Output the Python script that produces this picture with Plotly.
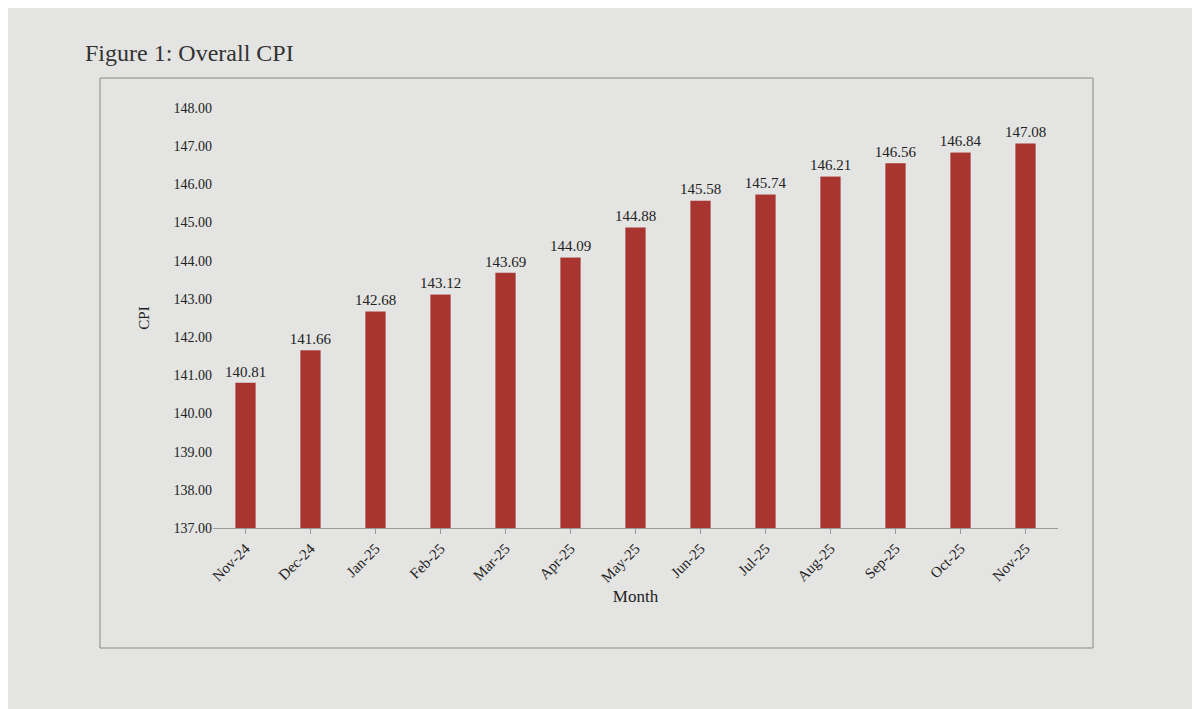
import plotly.graph_objects as go

months = ["Nov-24","Dec-24","Jan-25","Feb-25","Mar-25","Apr-25","May-25","Jun-25","Jul-25","Aug-25","Sep-25","Oct-25","Nov-25"]
cpi = [140.81,141.66,142.68,143.12,143.69,144.09,144.88,145.58,145.74,146.21,146.56,146.84,147.08]
yticks = [137 + i for i in range(12)]

F = "Liberation Serif"
fig = go.Figure(go.Bar(
    x=months, y=cpi, marker_color="#a8352f", width=0.32,
    text=[f"{v:.2f}" for v in cpi], textposition="outside", textangle=0,
    constraintext="none",
    textfont=dict(family=F, size=15, color="#222"), cliponaxis=False,
))
W, H = 1200, 709
l, r, t, b = 205, 150, 100, 189
pw, ph = W - l - r, H - t - b
px = lambda x: (x - l) / pw
py = lambda y: (H - b - y) / ph
fig.update_layout(
    width=W, height=H, margin=dict(l=l, r=r, t=t, b=b),
    paper_bgcolor="#e4e4e2", plot_bgcolor="#e4e4e2",
    font=dict(family=F, size=15, color="#222"), showlegend=False,
    xaxis=dict(tickangle=-45, showline=True, linecolor="#999", ticks="outside",
               tickcolor="#999", title=dict(text="Month", font=dict(size=17), standoff=5)),
    yaxis=dict(range=[137, 148], tickvals=yticks, tickformat=".2f", showgrid=False,
               showline=False, zeroline=False, tickfont=dict(size=14),
               title=dict(text="CPI", font=dict(size=15), standoff=20)),
    shapes=[dict(type="rect", xref="paper", yref="paper", x0=px(92), x1=px(1085),
                 y0=py(640), y1=py(70), line=dict(color="#888", width=1))],
    annotations=[dict(text="Figure 1: Overall CPI", xref="paper", yref="paper",
                      x=px(75), y=py(45), xanchor="left", yanchor="middle",
                      showarrow=False, font=dict(family=F, size=24, color="#333"))],
)
fig.write_html("out.html")
